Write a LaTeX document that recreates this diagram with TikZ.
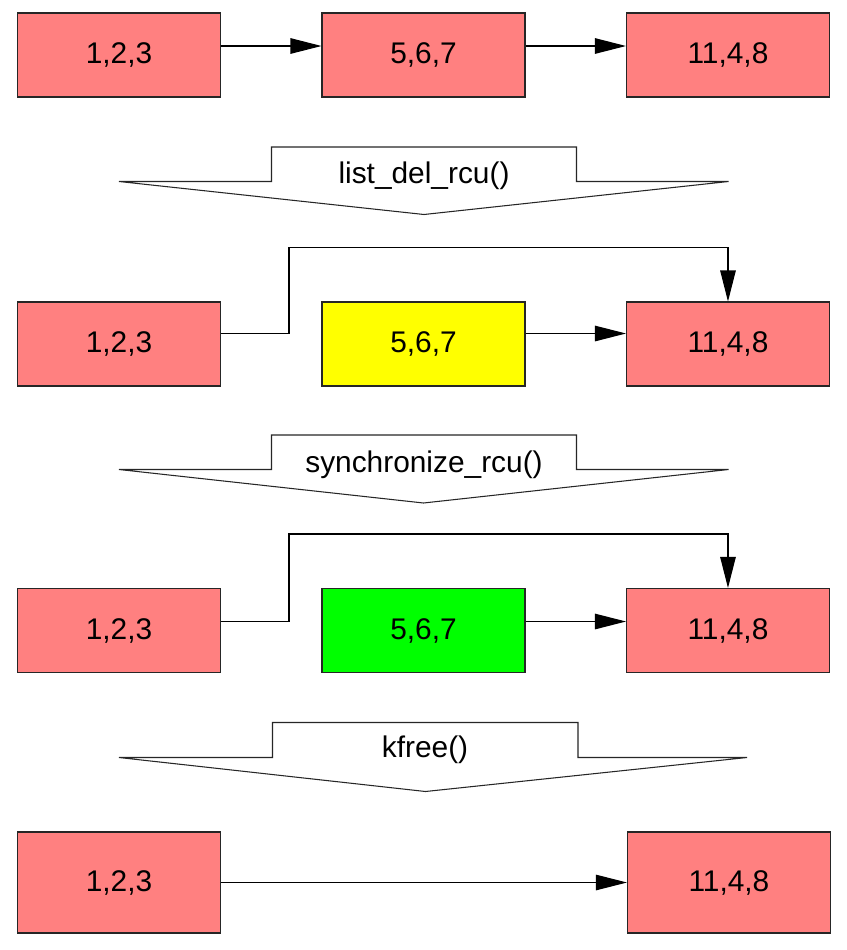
\documentclass[tikz,border=0pt]{standalone}
\usepackage{fontspec}
\setmainfont{Liberation Sans}
\usetikzlibrary{arrows.meta, positioning}
\definecolor{nodered}{RGB}{255,128,128}
\definecolor{graceyellow}{RGB}{255,255,0}
\definecolor{freegreen}{RGB}{0,255,0}

\begin{document}
\begin{tikzpicture}[x=0.02cm, y=-0.02cm,
    box/.style={rectangle, draw=black!85, fill=nodered, line width=0.6pt, minimum width=4.06cm, minimum height=1.68cm, inner sep=0pt, font=\fontsize{17}{20}\selectfont},
    tallbox/.style={box, minimum height=2.02cm},
    arrow/.style={-{Triangle[length=0.62cm, width=0.31cm]}, line width=0.6pt, black},
    stagearrow/.style={draw=black!85, fill=white, line width=0.6pt},
    stagelabel/.style={font=\fontsize{17}{20}\selectfont}
]
\useasboundingbox (0,0) rectangle (846,950);

% Row 1: list before removal
\node (A1) [box] at (119,55) {1,2,3};
\node (B1) [box, right=2.01cm of A1] {5,6,7};
\node (C1) [box, right=2.01cm of B1] {11,4,8};
\draw [arrow] ([yshift=0.18cm]A1.east) -- ([yshift=0.18cm]B1.west);
\draw [arrow] ([yshift=0.18cm]B1.east) -- ([yshift=0.18cm]C1.west);

% Stage arrow: list_del_rcu()
\draw [stagearrow] (119,181.5) -- (271.5,181.5) -- (271.5,147) -- (576.5,147) -- (576.5,181.5) -- (728.5,181.5) -- (424,214.5) -- cycle;
\node (DEL) [stagelabel] at (424,176) {list\_del\_rcu()};

% Row 2: element unlinked, readers may still see it
\node (A2) [box] at (119,344) {1,2,3};
\node (B2) [box, fill=graceyellow, right=2.01cm of A2] {5,6,7};
\node (C2) [box, right=2.01cm of B2] {11,4,8};
\draw [arrow] ([yshift=0.21cm]A2.east) -- ++(1.36cm,0) |- ([yshift=1.08cm]C2.north) -- (C2.north);
\draw [arrow] ([yshift=0.21cm]B2.east) -- ([yshift=0.21cm]C2.west);

% Stage arrow: synchronize_rcu()
\draw [stagearrow] (119,469.5) -- (271.5,469.5) -- (271.5,435) -- (576.5,435) -- (576.5,469.5) -- (728.5,469.5) -- (423.5,503) -- cycle;
\node (SYNC) [stagelabel] at (424,465) {synchronize\_rcu()};

% Row 3: grace period over
\node (A3) [box] at (119,630.5) {1,2,3};
\node (B3) [box, fill=freegreen, right=2.01cm of A3] {5,6,7};
\node (C3) [box, right=2.01cm of B3] {11,4,8};
\draw [arrow] ([yshift=0.18cm]A3.east) -- ++(1.36cm,0) |- ([yshift=1.08cm]C3.north) -- (C3.north);
\draw [arrow] ([yshift=0.18cm]B3.east) -- ([yshift=0.18cm]C3.west);

% Stage arrow: kfree()
\draw [stagearrow] (119,757.5) -- (272.5,757.5) -- (272.5,722.5) -- (578,722.5) -- (578,757.5) -- (747,757.5) -- (425.5,791.5) -- cycle;
\node (FREE) [stagelabel] at (425,750) {kfree()};

% Row 4: element freed
\node (A4) [tallbox] at (119,882.5) {1,2,3};
\node (C4) [tallbox, right=8.12cm of A4] {11,4,8};
\draw [arrow] (A4.east) -- (C4.west);

\end{tikzpicture}
\end{document}
